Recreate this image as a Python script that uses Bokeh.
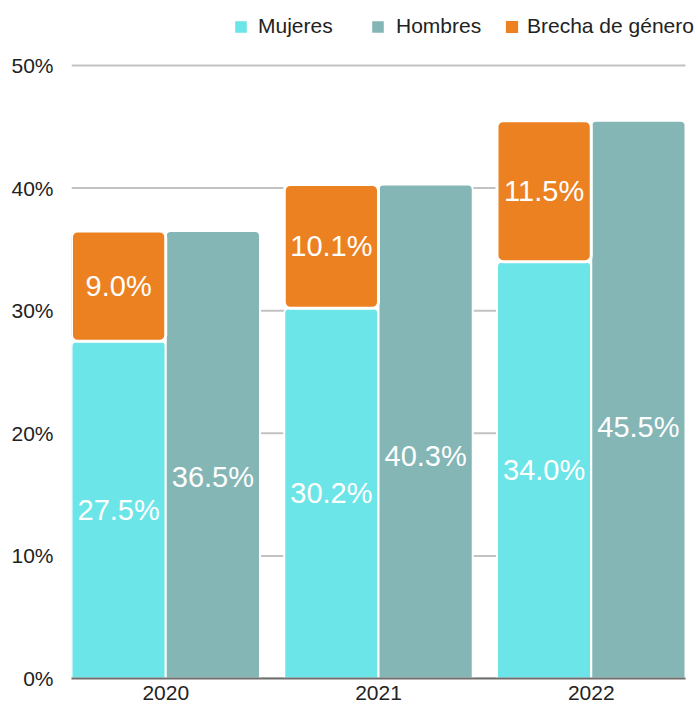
from bokeh.plotting import figure
from bokeh.models import ColumnDataSource, Range1d, FixedTicker, Legend, LegendItem
from bokeh.core.properties import value
from bokeh.embed import file_html
from bokeh.resources import INLINE

years = ["2020", "2021", "2022"]
mujeres = [27.5, 30.2, 34.0]
hombres = [36.5, 40.3, 45.5]
brecha = [9.0, 10.1, 11.5]
series_names = ["Mujeres", "Hombres", "Brecha de género"]
y_ticks = [0, 10, 20, 30, 40, 50]
y_tick_labels = ["0%", "10%", "20%", "30%", "40%", "50%"]

C_MUJ = "#6ce5e8"
C_HOM = "#84b6b6"
C_BRE = "#ec8122"
FONT = "Liberation Sans"

BW = 0.443
OFF = BW / 2
xs = list(range(len(years)))
x_lo = xs[0] - BW
x_hi = xs[-1] + BW

src = ColumnDataSource(dict(
    xm=[x - OFF for x in xs],
    xh=[x + OFF for x in xs],
    muj=mujeres,
    hom=hombres,
    bre_top=[m + b for m, b in zip(mujeres, brecha)],
    muj_y=[m / 2 for m in mujeres],
    hom_y=[h * 0.45 for h in hombres],
    bre_y=[m + b / 2 for m, b in zip(mujeres, brecha)],
    muj_lbl=[f"{v:.1f}%" for v in mujeres],
    hom_lbl=[f"{v:.1f}%" for v in hombres],
    bre_lbl=[f"{v:.1f}%" for v in brecha],
))

# layout (pixels)
W, H = 698, 708
LEFT, BOTTOM = 71, 30
BARS_PX = 614          # horizontal extent of the bar groups
TOP_GAP_PX = 65        # space above the 50% line (legend lives there)
frame_w = W - LEFT
frame_h = H - BOTTOM
x_start = x_lo
x_end = x_start + (x_hi - x_lo) * frame_w / BARS_PX
y_end = 50 * frame_h / (frame_h - TOP_GAP_PX)

p = figure(width=W, height=H, output_backend="svg", toolbar_location=None,
           x_range=Range1d(x_start, x_end), y_range=Range1d(0, y_end))
p.min_border_left = LEFT
p.min_border_right = 0
p.min_border_bottom = BOTTOM
p.min_border_top = 0
p.outline_line_color = None
p.background_fill_color = "white"
p.border_fill_color = "white"

# horizontal gridlines limited to the bar area
p.segment(x0=[x_lo] * len(y_ticks), x1=[x_hi] * len(y_ticks), y0=y_ticks, y1=y_ticks,
          line_color="#c2c2c2", line_width=2, level="underlay")

r_m = p.vbar(x="xm", top="muj", bottom=0, width=BW, source=src, fill_color=C_MUJ,
             line_color="white", line_width=2, border_radius=(5, 5, 0, 0))
r_h = p.vbar(x="xh", top="hom", bottom=0, width=BW, source=src, fill_color=C_HOM,
             line_color="white", line_width=2, border_radius=(5, 5, 0, 0))
r_b = p.vbar(x="xm", top="bre_top", bottom="muj", width=BW, source=src, fill_color=C_BRE,
             line_color="white", line_width=3, border_radius=6)

for xcol, ycol, tcol in [("xm", "muj_y", "muj_lbl"), ("xh", "hom_y", "hom_lbl"),
                         ("xm", "bre_y", "bre_lbl")]:
    p.text(x=xcol, y=ycol, text=tcol, source=src, text_color="white",
           text_font=value(FONT), text_font_size="29px", text_align="center",
           text_baseline="middle")

# axes
p.xaxis.ticker = FixedTicker(ticks=xs)
p.xaxis.major_label_overrides = {x: y for x, y in zip(xs, years)}
p.xaxis.bounds = (x_lo, x_hi)
p.xaxis.major_tick_line_color = None
p.xaxis.major_tick_out = 0
p.xaxis.major_tick_in = 0
p.xaxis.minor_tick_line_color = None
p.xaxis.axis_line_color = "#6e6e6e"
p.xaxis.axis_line_width = 2
p.xaxis.major_label_text_font = FONT
p.xaxis.major_label_text_font_size = "21px"
p.xaxis.major_label_text_color = "#222222"
p.xaxis.major_label_standoff = 7

p.yaxis.ticker = FixedTicker(ticks=y_ticks)
p.yaxis.major_label_overrides = {t: l for t, l in zip(y_ticks, y_tick_labels)}
p.yaxis.axis_line_color = None
p.yaxis.major_tick_line_color = None
p.yaxis.major_tick_out = 0
p.yaxis.major_tick_in = 0
p.yaxis.minor_tick_line_color = None
p.yaxis.major_label_text_font = FONT
p.yaxis.major_label_text_font_size = "21px"
p.yaxis.major_label_text_color = "#222222"
p.yaxis.major_label_standoff = 18

p.xgrid.grid_line_color = None
p.ygrid.grid_line_color = None

# legends (one per series, placed in the space above the 50% line)
legend_x = [161, 298, 431]      # px from frame left
glyph_sz = [17, 17, 19]
standoff = [9, 10, 6]
for name, r, lx, gs, so in zip(series_names, [r_m, r_h, r_b], legend_x, glyph_sz, standoff):
    lg = Legend(items=[LegendItem(label=name, renderers=[r])],
                orientation="horizontal", location=(lx, frame_h - 38),
                label_text_font=FONT, label_text_font_size="21px",
                label_text_color="#222222", glyph_width=gs, glyph_height=gs,
                label_standoff=so, padding=0, margin=0,
                border_line_alpha=0, background_fill_alpha=0)
    p.add_layout(lg, "center")

open("out.html", "w").write(file_html(p, INLINE))
